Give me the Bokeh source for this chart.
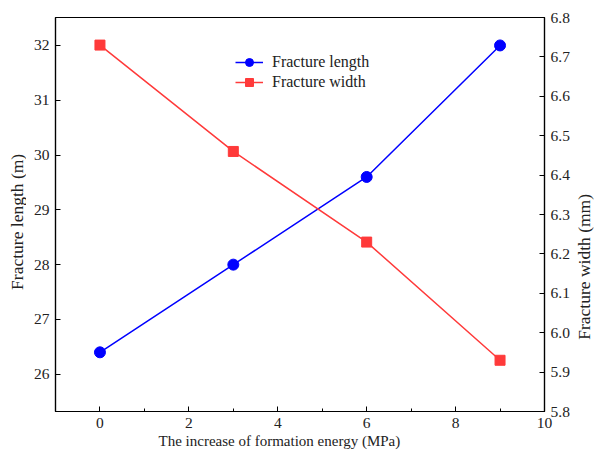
import math
from bokeh.plotting import figure
from bokeh.layouts import row
from bokeh.models import Range1d, LinearAxis, FixedTicker, SingleIntervalTicker, Legend, LegendItem, NumeralTickFormatter
from bokeh.core.properties import value
from bokeh.embed import file_html
from bokeh.resources import INLINE

energy = [0, 3, 6, 9]
frac_length = [26.4, 28.0, 29.6, 32.0]
frac_width = [6.73, 6.46, 6.23, 5.93]
left_ticks = [26, 27, 28, 29, 30, 31, 32]
right_ticks = [5.8, 5.9, 6.0, 6.1, 6.2, 6.3, 6.4, 6.5, 6.6, 6.7, 6.8]
x_title = "The increase of formation energy (MPa)"
left_title = "Fracture length (m)"
right_title = "Fracture width (mm)"

FONT = "Liberation Serif"
BLUE = "#0000FF"
RED = "#FF3A3A"
H = 455

p = figure(width=546, height=H, output_backend="svg", toolbar_location=None,
           x_range=Range1d(-1, 10), y_range=Range1d(25.32, 32.51),
           min_border_left=29, min_border_right=26, min_border_top=17, min_border_bottom=44)
p.extra_y_ranges = {"w": Range1d(5.8, 6.8)}
p.xgrid.visible = False
p.ygrid.visible = False
p.outline_line_color = "black"
p.outline_line_width = 1.2
p.background_fill_color = "white"
p.border_fill_color = "white"

def style(ax):
    ax.axis_line_color = "black"
    ax.axis_line_width = 1.2
    ax.major_tick_in = 5
    ax.major_tick_out = 0
    ax.minor_tick_in = 3
    ax.minor_tick_out = 0
    ax.major_tick_line_color = "black"
    ax.minor_tick_line_color = "black"
    ax.major_label_text_font = FONT
    ax.major_label_text_font_size = "15.5px"
    ax.major_label_text_color = "#222222"
    ax.axis_label_text_font = FONT
    ax.axis_label_text_font_size = "15px"
    ax.axis_label_text_font_style = "normal"
    ax.axis_label_text_color = "#222222"
    ax.major_label_standoff = 6

xa = p.xaxis[0]
xa.ticker = SingleIntervalTicker(interval=2, num_minor_ticks=2)
xa.axis_label = x_title + "\u00a0" * 11
style(xa)
xa.axis_label_standoff = 2

ya = p.yaxis[0]
ya.ticker = FixedTicker(ticks=left_ticks)
style(ya)
ya.major_label_standoff = 6
ya.minor_tick_in = 0

ra = LinearAxis(y_range_name="w", ticker=FixedTicker(ticks=right_ticks),
                formatter=NumeralTickFormatter(format="0.0"))
style(ra)
ra.minor_tick_in = 0
ra.major_label_standoff = 6
p.add_layout(ra, "right")

l1 = p.line(energy, frac_length, line_color=BLUE, line_width=1.5)
m1 = p.scatter(energy, frac_length, marker="circle", size=11, fill_color=BLUE, line_color=BLUE)
l2 = p.line(energy, frac_width, line_color=RED, line_width=1.5, y_range_name="w")
m2 = p.scatter(energy, frac_width, marker="square", size=10, fill_color=RED, line_color=RED, y_range_name="w")

legend = Legend(items=[LegendItem(label="Fracture length", renderers=[l1, m1]),
                       LegendItem(label="Fracture width", renderers=[l2, m2])],
                location=(180, 319))
legend.border_line_color = None
legend.background_fill_alpha = 0
legend.padding = 0
legend.margin = 0
legend.spacing = 0
legend.glyph_width = 28
legend.glyph_height = 20
legend.label_height = 20
legend.label_standoff = 9
legend.label_text_font = FONT
legend.label_text_font_size = "16px"
legend.label_text_color = "#222222"
p.add_layout(legend, "center")

def title_strip(w, tx, ty, text):
    f = figure(width=w, height=H, output_backend="svg", toolbar_location=None,
               x_range=Range1d(0, w), y_range=Range1d(0, H),
               x_axis_type=None, y_axis_type=None, min_border=0)
    f.outline_line_color = None
    f.xgrid.visible = False
    f.ygrid.visible = False
    f.text(x=[tx], y=[ty], text=[text], angle=math.pi / 2, text_align="center",
           text_baseline="middle", text_font=value(FONT), text_font_size="17.5px",
           text_color="#222222")
    return f

pl = title_strip(26, 16, H - 236, left_title)
pr = title_strip(28, 11, H - 288, right_title)

layout = row(pl, p, pr, spacing=0)
open("out.html", "w").write(file_html(layout, INLINE))
